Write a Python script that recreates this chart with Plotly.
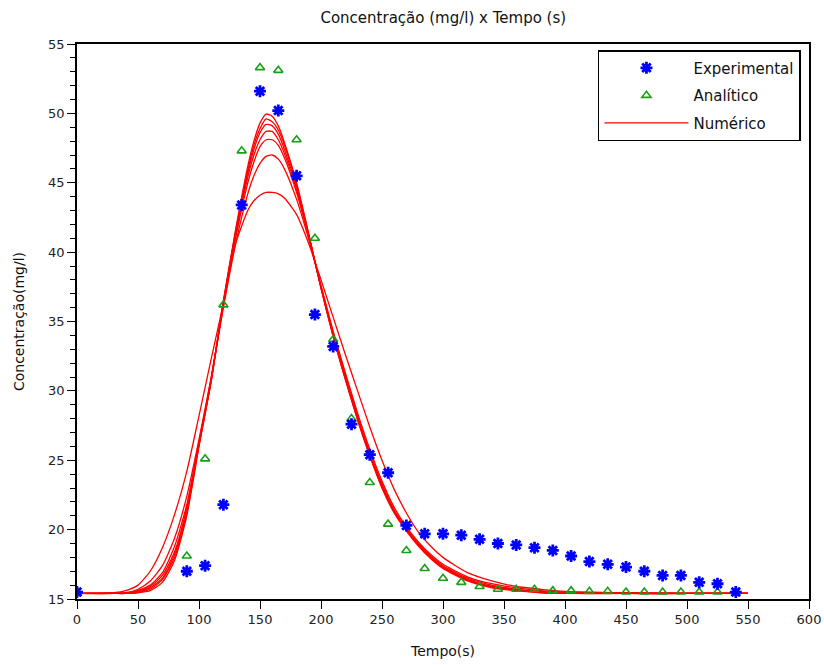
import plotly.graph_objects as go

# ---- data ----
t_exp = [0, 90, 105, 120, 135, 150, 165, 180, 195, 210, 225, 240, 255, 270, 285,
         300, 315, 330, 345, 360, 375, 390, 405, 420, 435, 450, 465, 480, 495, 510, 525, 540]
c_exp = [15.5, 17.0, 17.4, 21.8, 43.4, 51.6, 50.2, 45.5, 35.5, 33.2, 27.6, 25.4, 24.1, 20.3, 19.7,
         19.7, 19.6, 19.3, 19.0, 18.9, 18.7, 18.5, 18.1, 17.7, 17.5, 17.3, 17.0, 16.7, 16.7, 16.2, 16.1, 15.5]

t_ana = [0, 90, 105, 120, 135, 150, 165, 180, 195, 210, 225, 240, 255, 270, 285,
         300, 315, 330, 345, 360, 375, 390, 405, 420, 435, 450, 465, 480, 495, 510, 525, 540]
c_ana = [15.4, 18.1, 25.1, 36.2, 47.3, 53.3, 53.1, 48.1, 41.0, 33.7, 28.0, 23.4, 20.4, 18.5, 17.2,
         16.5, 16.2, 15.9, 15.7, 15.7, 15.7, 15.6, 15.6, 15.55, 15.55, 15.5, 15.5, 15.5, 15.5, 15.5, 15.5, 15.5]

t_num = [0, 30, 40, 50, 60, 70, 80, 90, 100, 110, 120, 130, 140, 145, 150, 155, 160, 165, 170,
         180, 190, 200, 210, 220, 230, 240, 250, 260, 270, 280, 290, 300, 320, 340, 360, 380,
         400, 450, 500, 550]

c_num_1 = [15.4, 15.45, 15.6, 16.0, 17.0, 18.7, 21.1, 24.2, 28.2, 32.3, 36.3, 40.6, 43.0, 43.7, 44.1, 44.3, 44.3, 44.2, 43.9,
           42.7, 40.6, 38.0, 35.3, 32.6, 30.0, 27.4, 25.0, 22.9, 21.2, 19.8, 18.8, 18.0, 16.9, 16.3, 15.9, 15.7,
           15.55, 15.45, 15.4, 15.4]
c_num_2 = [15.4, 15.4, 15.45, 15.7, 16.3, 17.4, 19.4, 22.4, 26.5, 31.0, 36.0, 40.6, 44.2, 45.5, 46.4, 46.9, 47.0, 46.7, 46.0,
           43.8, 40.9, 37.6, 34.3, 31.3, 28.4, 25.8, 23.5, 21.6, 20.2, 19.1, 18.2, 17.5, 16.6, 16.1, 15.8, 15.6,
           15.5, 15.4, 15.4, 15.4]
c_num_3 = [15.4, 15.4, 15.43, 15.6, 16.0, 16.9, 18.8, 21.8, 26.3, 30.9, 36.2, 41.0, 45.0, 46.5, 47.6, 48.1, 48.1, 47.7, 46.8,
           44.3, 41.1, 37.5, 34.1, 31.1, 28.2, 25.6, 23.3, 21.4, 20.1, 19.0, 18.1, 17.4, 16.5, 16.0, 15.7, 15.55,
           15.45, 15.4, 15.4, 15.4]
c_num_4 = [15.4, 15.4, 15.42, 15.55, 15.9, 16.7, 18.4, 21.6, 26.2, 30.8, 36.3, 41.2, 45.4, 47.0, 48.1, 48.7, 48.7, 48.1, 47.1,
           44.5, 41.1, 37.5, 34.1, 31.0, 28.1, 25.5, 23.2, 21.4, 20.0, 18.9, 18.0, 17.3, 16.4, 15.9, 15.7, 15.5,
           15.45, 15.4, 15.4, 15.4]
c_num_5 = [15.4, 15.4, 15.41, 15.5, 15.8, 16.5, 18.2, 21.3, 26.1, 30.8, 36.4, 41.4, 45.7, 47.4, 48.6, 49.2, 49.1, 48.5, 47.4,
           44.7, 41.2, 37.45, 34.0, 30.9, 28.0, 25.4, 23.1, 21.3, 20.0, 18.9, 18.0, 17.3, 16.4, 15.9, 15.65, 15.5,
           15.42, 15.4, 15.4, 15.4]
c_num_6 = [15.4, 15.4, 15.4, 15.47, 15.7, 16.4, 18.0, 21.2, 26.1, 30.7, 36.4, 41.5, 45.9, 47.7, 48.9, 49.6, 49.4, 48.8, 47.7,
           44.85, 41.25, 37.4, 33.95, 30.85, 27.95, 25.35, 23.05, 21.25, 19.95, 18.85, 17.95, 17.25, 16.35, 15.85, 15.63, 15.47,
           15.41, 15.4, 15.4, 15.4]
c_num_7 = [15.4, 15.4, 15.4, 15.45, 15.6, 16.2, 17.8, 21.0, 26.0, 30.7, 36.5, 41.6, 46.2, 48.0, 49.3, 49.95, 49.8, 49.1, 47.9,
           45.0, 41.3, 37.4, 33.9, 30.8, 27.9, 25.3, 23.0, 21.2, 19.9, 18.8, 17.9, 17.2, 16.3, 15.8, 15.6, 15.45,
           15.4, 15.4, 15.4, 15.4]
num_series = [c_num_1, c_num_2, c_num_3, c_num_4, c_num_5, c_num_6, c_num_7]

x_ticks = list(range(0, 601, 50))
y_ticks = list(range(15, 56, 5))

FONT = "DejaVu Sans"
RED = "#ff0000"
BLUE = "#0000ff"
GREEN = "#16a016"

fig = go.Figure()

for i, ys in enumerate(num_series):
    fig.add_trace(go.Scatter(
        x=t_num, y=ys, mode="lines", name="Numérico",
        line=dict(color=RED, width=1.3, shape="spline", smoothing=0.6),
        legendgroup="num", showlegend=(i == 0), legendrank=3,
    ))

fig.add_trace(go.Scatter(
    x=t_ana, y=c_ana, mode="markers", name="Analítico", legendrank=2, legendgroup="ana",
    marker=dict(symbol="triangle-up-open", size=8, color=GREEN, line=dict(width=1.6, color=GREEN)),
))
fig.add_trace(go.Scatter(
    x=t_exp, y=c_exp, mode="markers", name="Experimental", legendrank=1, legendgroup="exp",
    marker=dict(symbol="asterisk-open", size=10, color=BLUE, line=dict(width=2.8, color=BLUE)),
))

axis_common = dict(
    showline=True, linecolor="black", linewidth=1.5, mirror=True,
    ticks="outside", tickcolor="black", tickwidth=1.2, ticklen=8,
    showgrid=False, zeroline=False, automargin=False,
    tickfont=dict(family=FONT, size=13, color="#222"),
)

fig.update_xaxes(
    range=[0, 600], tickvals=x_ticks,
    title=dict(text="Tempo(s)", font=dict(family=FONT, size=14, color="#111"), standoff=20),
    **axis_common,
)
fig.update_yaxes(
    range=[15, 55], tickvals=y_ticks,
    minor=dict(dtick=1, ticks="outside", ticklen=5, tickcolor="black", tickwidth=1.2),
    title=dict(text="Concentração(mg/l)", font=dict(family=FONT, size=14, color="#111"), standoff=20),
    **axis_common,
)

fig.update_layout(
    width=824, height=665,
    margin=dict(l=77, r=15, t=44, b=66, autoexpand=False),
    paper_bgcolor="white", plot_bgcolor="white",
    title=dict(text="Concentração (mg/l) x Tempo (s)", x=0.538, xanchor="center", y=0.973, yanchor="middle",
               font=dict(family=FONT, size=15, color="#111")),
    legend=dict(
        x=0.989, y=0.989, xanchor="right", yanchor="top",
        bordercolor="black", borderwidth=1.5, bgcolor="white",
        font=dict(family=FONT, size=15, color="#111"),
        itemwidth=84, tracegroupgap=5,
    ),
)

fig.write_html("out.html")
